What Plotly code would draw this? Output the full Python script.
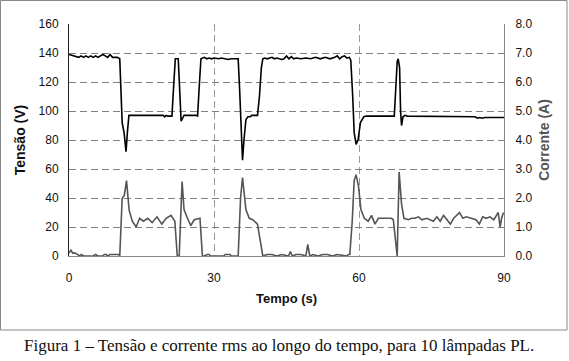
import plotly.graph_objects as go

# Voltage (V) samples: time (s), value
t_v = [0, 0.5, 1, 1.5, 2, 2.5, 3, 3.5, 4, 4.5, 5, 5.5, 6, 6.5, 7, 7.5, 8, 8.5, 9, 9.5, 10, 10.5,
       10.8, 11.0, 11.4, 11.8, 12.1, 12.4, 15, 19.5, 19.8, 20.1, 20.4, 21.3, 21.7, 22.0, 22.6, 22.9,
       23.2, 23.5, 23.8, 26.3, 26.6, 27.0, 27.3, 28, 28.5, 29, 29.5, 30, 31, 31.5, 32, 33, 33.5, 35,
       35.3, 35.6, 35.9, 36.2, 36.6, 37.0, 37.5, 37.8, 39.0, 39.4, 39.8, 40.1, 40.5, 41, 42, 42.5,
       43, 44, 44.5, 45, 45.5, 46, 46.5, 47, 48, 49, 50, 51, 52, 53, 54, 55, 55.5, 56, 56.5, 57, 57.5,
       58, 58.3, 58.7, 59.0, 59.4, 59.8, 60.3, 61.0, 61.5, 65, 65.5, 66, 66.5, 67.3, 67.6, 67.9, 68.1,
       68.4, 68.6, 68.8, 69.1, 69.5, 70, 71, 72, 72.5, 73, 74, 75, 76, 77, 78, 79, 80, 82, 84, 84.5,
       85, 85.5, 86, 90]
v_vals = [139, 138.5, 138, 138, 137, 138, 137, 138, 137, 138, 137, 138, 137, 138, 139, 138, 137, 139, 137, 137, 137, 136,
          110, 92, 85, 72, 86, 97, 97, 97, 96, 97, 96.5, 96.5, 120, 136, 136, 115,
          93, 95, 97, 97, 96.5, 120, 136, 137, 136, 136.5, 136, 136.5, 136, 136.5, 136, 135.5, 136, 136,
          115, 85, 66, 80, 94, 96, 96, 97, 97, 110, 130, 136, 136.5, 136, 137, 136,
          136.5, 135.5, 136, 138, 136, 137.5, 136, 136.5, 136, 136.5, 136, 137, 136, 137, 136, 137, 138, 136, 137.5, 138, 136.5,
          137, 135, 110, 85, 77, 80, 92, 96, 96.5, 96.5, 96, 96.5, 96, 96.5, 115, 134, 136,
          130, 100, 90, 96, 97, 96.5, 96.5, 96, 96.5, 96.5, 96, 96.5, 96, 96.5, 96.5, 96, 96, 96, 96, 95,
          95.5, 95, 95.5, 95.5]

# Current (A) samples: time (s), value
t_i = [0, 0.4, 0.8, 1.3, 1.8, 2.2, 2.6, 3.0, 4, 5, 5.5, 6, 7, 7.3, 7.7, 8, 8.5, 9, 9.5, 10.3, 10.5,
       11.0, 11.45, 11.9, 12.45, 13.1, 13.9, 14.6, 15.4, 16.3, 17.2, 18.2, 19.2, 20.1, 21.1, 21.9,
       22.4, 22.8, 23.4, 23.8, 24.5, 25.2, 25.9, 26.8, 27.1, 27.6, 28.0, 28.6, 29.0, 29.3, 29.6,
       32.0, 32.3, 33.3, 33.6, 35.0, 35.5, 35.9, 36.6, 37.3, 38.0, 39.0, 39.5, 40.1, 41, 42, 43, 44,
       45.4, 45.8, 46.2, 47, 48, 49.0, 49.4, 49.8, 50.5, 51.5, 52.5, 53.5, 54.5, 55.5, 57.5, 57.8,
       58.1, 58.6, 59.0, 59.4, 59.9, 60.4, 61.1, 61.9, 62.6, 63.3, 64.0, 65.4, 66.7, 67.1, 67.4,
       67.9, 68.3, 68.8, 69.3, 70.2, 70.9, 71.6, 72.3, 73.0, 74.0, 74.7, 75.4, 76.1, 76.8, 77.5,
       78.2, 78.9, 79.6, 80.8, 81.5, 82.2, 83.2, 84.2, 84.9, 85.6, 86.3, 87.1, 87.9, 88.8, 89.2,
       89.5, 89.9]
i_vals = [0.1, 0.2, 0.1, 0.1, 0.05, 0, 0.05, 0, 0, 0, 0.05, 0, 0, 0.05, 0.05, 0, 0.05, 0.05, 0.05, 0.05, 0,
          1.98, 2.1, 2.6, 1.57, 1.2, 1.0, 1.3, 1.2, 1.3, 1.15, 1.35, 1.1, 1.3, 1.4, 1.2,
          0, 0, 2.57, 1.6, 1.3, 1.05, 1.25, 1.3, 1.3, 0, 0, 0.05, 0.05, 0, 0,
          0, 0.05, 0.05, 0, 0, 2.0, 2.7, 1.6, 1.3, 1.25, 1.1, 0.6, 0, 0.05, 0.05, 0, 0.05,
          0, 0.15, 0, 0.05, 0.05, 0, 0.4, 0, 0.05, 0, 0.05, 0.05, 0, 0.05, 0, 0.05,
          0.05, 1.2, 2.6, 2.8, 2.4, 1.6, 1.3, 1.2, 1.4, 1.1, 1.3, 1.3, 1.3, 1.25, 0.7,
          0, 2.9, 1.8, 1.3, 1.25, 1.3, 1.3, 1.35, 1.25, 1.3, 1.25, 1.2, 1.35, 1.2, 1.4,
          1.25, 1.1, 1.3, 1.5, 1.3, 1.35, 1.3, 1.25, 1.1, 1.35, 1.3, 1.35, 1.25, 1.5, 1.0,
          1.3, 1.5]

x_ticks = [0, 30, 60, 90]
y_ticks = [0, 20, 40, 60, 80, 100, 120, 140, 160]
y2_ticks = [0, 1, 2, 3, 4, 5, 6, 7, 8]

caption = "Figura 1 – Tensão e corrente rms ao longo do tempo, para 10 lâmpadas PL."

fig = go.Figure()
fig.add_trace(go.Scatter(x=t_i, y=i_vals, mode="lines", yaxis="y2",
                         line=dict(color="#555555", width=1.6), showlegend=False))
fig.add_trace(go.Scatter(x=t_v, y=v_vals, mode="lines", yaxis="y",
                         line=dict(color="#000000", width=1.6), showlegend=False))

W, H = 569, 361
L, R, T, B = 69, 65, 24, 105
pw, ph = W - L - R, H - T - B

font_tick = dict(family="Arial, Liberation Sans, sans-serif", size=12, color="#111111")

fig.update_layout(
    width=W, height=H,
    margin=dict(l=L, r=R, t=T, b=B, autoexpand=False),
    paper_bgcolor="white", plot_bgcolor="white",
    xaxis=dict(range=[0, 90], tickvals=x_ticks, showgrid=True, gridcolor="#999999",
               griddash="7px,4px", gridwidth=1, zeroline=False, automargin=False,
               showline=True, linecolor="#888888", linewidth=1,
               ticks="", tickfont=font_tick, ticklabelstandoff=11,
               title=dict(text="<b>Tempo (s)</b>", standoff=9,
                          font=dict(family="Arial, Liberation Sans, sans-serif", size=13, color="#111111"))),
    yaxis=dict(range=[0, 160], tickvals=y_ticks, showgrid=True, gridcolor="#808080",
               griddash="7px,4px", gridwidth=1, zeroline=False, automargin=False,
               showline=True, linecolor="#222222", linewidth=1,
               ticks="", tickfont=font_tick, ticklabelstandoff=7,
               title=dict(text="<b>Tensão (V)</b>", standoff=9,
                          font=dict(family="Arial, Liberation Sans, sans-serif", size=14, color="#111111"))),
    yaxis2=dict(range=[0, 8], tickvals=y2_ticks, tickformat=".1f", overlaying="y", side="right",
                showgrid=False, zeroline=False, showline=True, linecolor="#888888", linewidth=1,
                automargin=False,
                ticks="", tickfont=font_tick, ticklabelstandoff=8,
                title=dict(text="<b>Corrente (A)</b>", standoff=7,
                           font=dict(family="Arial, Liberation Sans, sans-serif", size=14, color="#555555"))),
    shapes=[dict(type="rect", xref="paper", yref="paper",
                 x0=(0.5 - L) / pw, x1=(567 - L) / pw,
                 y0=(H - B - 330) / ph, y1=(H - B - 0.5) / ph,
                 line=dict(color="#888888", width=1), fillcolor="rgba(0,0,0,0)", layer="below")],
    annotations=[dict(text=caption, xref="paper", yref="paper",
                      x=(279 - L) / pw, y=(H - B - 345) / ph, showarrow=False,
                      xanchor="center", yanchor="middle",
                      font=dict(family="Liberation Serif, Times New Roman, serif", size=17, color="#111111"))],
)

fig.write_html("out.html", config={"displayModeBar": False},
               post_script="document.body.style.margin='0px';")
